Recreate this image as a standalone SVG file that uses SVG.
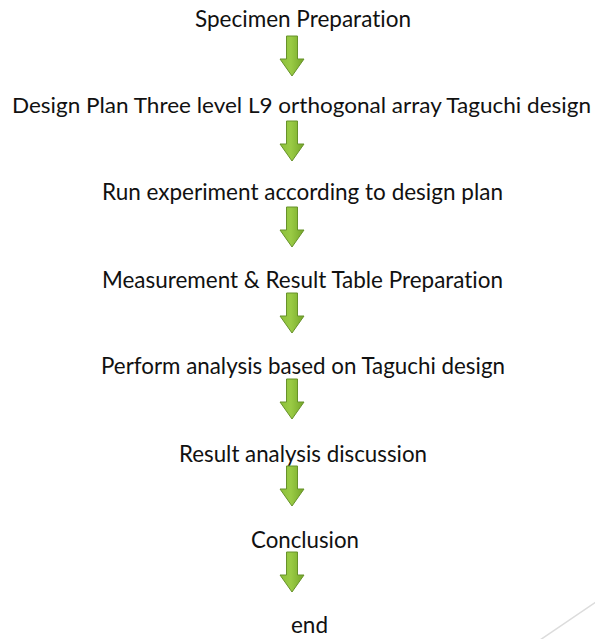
<svg xmlns="http://www.w3.org/2000/svg" xmlns:xlink="http://www.w3.org/1999/xlink" width="595" height="639" viewBox="0 0 595 639">
  <style>
    .lbl { font-family: Lato, "Open Sans", "Liberation Sans", sans-serif; font-size: 23px; fill: #111; font-variant-ligatures: none; font-feature-settings: "liga" 0, "dlig" 0; }
    .wide { font-size: 22px; }
    .arrow { fill: url(#greenFill); stroke: #67922a; stroke-width: 1; }
  </style>
  <defs>
    <linearGradient id="greenFill" x1="0" y1="0" x2="1" y2="0">
      <stop offset="0" stop-color="#8cc03a"/>
      <stop offset="0.45" stop-color="#9acb45"/>
      <stop offset="1" stop-color="#74a628"/>
    </linearGradient>
    <!-- block arrow pointing down, origin at top centre of the shaft -->
    <path id="downArrow" class="arrow" d="M-5.5,0 H5.5 V23 H12 L0,40 L-12,23 H-5.5 Z"/>
  </defs>

  <rect width="595" height="639" fill="#ffffff"/>

  <!-- faint corner rule -->
  <line x1="596" y1="602" x2="540" y2="640" stroke="#dcdcdc" stroke-width="1.5"/>

  <g id="step-specimen">
    <text class="lbl" x="195" y="27" textLength="216" lengthAdjust="spacingAndGlyphs">Specimen Preparation</text>
  </g>
  <g id="step-design">
    <text class="lbl wide" x="12" y="113" textLength="579" lengthAdjust="spacingAndGlyphs">Design Plan Three level L9 orthogonal array Taguchi design</text>
  </g>
  <g id="step-run">
    <text class="lbl" x="102" y="200" textLength="401" lengthAdjust="spacingAndGlyphs">Run experiment according to design plan</text>
  </g>
  <g id="step-measure">
    <text class="lbl" x="102" y="288" textLength="401" lengthAdjust="spacingAndGlyphs">Measurement &amp; Result Table Preparation</text>
  </g>
  <g id="step-analysis">
    <text class="lbl" x="101" y="374" textLength="404" lengthAdjust="spacingAndGlyphs">Perform analysis based on Taguchi design</text>
  </g>
  <g id="step-discussion">
    <text class="lbl" x="179" y="462" textLength="248" lengthAdjust="spacingAndGlyphs">Result analysis discussion</text>
  </g>
  <g id="step-conclusion">
    <text class="lbl" x="251" y="548" textLength="108" lengthAdjust="spacingAndGlyphs">Conclusion</text>
  </g>
  <g id="step-end">
    <text class="lbl" x="291" y="633" textLength="37" lengthAdjust="spacingAndGlyphs">end</text>
  </g>

  <g id="connectors">
    <use xlink:href="#downArrow" href="#downArrow" transform="translate(292,36)"/>
    <use xlink:href="#downArrow" href="#downArrow" transform="translate(292,121)"/>
    <use xlink:href="#downArrow" href="#downArrow" transform="translate(292,207)"/>
    <use xlink:href="#downArrow" href="#downArrow" transform="translate(292,293)"/>
    <use xlink:href="#downArrow" href="#downArrow" transform="translate(292,379)"/>
    <use xlink:href="#downArrow" href="#downArrow" transform="translate(292,466)"/>
    <use xlink:href="#downArrow" href="#downArrow" transform="translate(292,552)"/>
  </g>
</svg>
